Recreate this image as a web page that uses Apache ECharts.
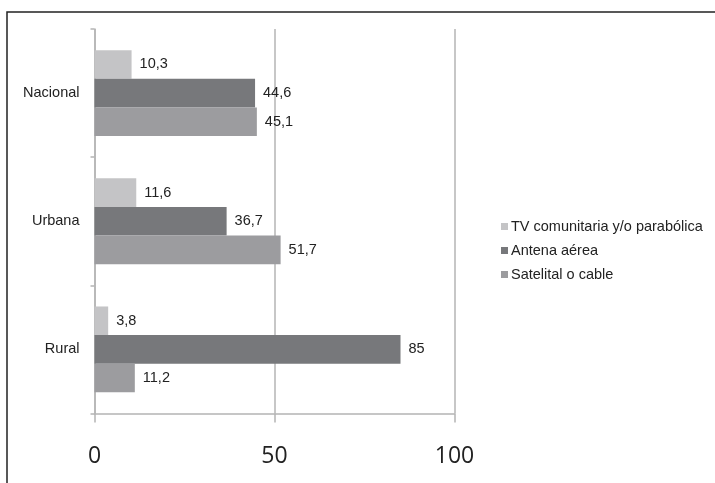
<!DOCTYPE html>
<html>
<head>
<meta charset="utf-8">
<script src="https://cdn.jsdelivr.net/npm/echarts@6/dist/echarts.min.js"></script>
<style>
  html, body { margin: 0; padding: 0; background: #fff; }
  #chart { width: 715px; height: 483px; }
</style>
</head>
<body>
<div id="chart"></div>
<script>
  // categorias y series
  var categorias = ['Nacional', 'Urbana', 'Rural']
  var nombres = ['TV comunitaria y/o parabólica', 'Antena aérea', 'Satelital o cable']
  var tvComunitaria = [10.3, 11.6, 3.8]
  var antenaAerea = [44.6, 36.7, 85]
  var satelital = [45.1, 51.7, 11.2]
  var colores = ['#c4c4c6', '#77787b', '#9c9c9f']

  var valores = [tvComunitaria, antenaAerea, satelital]
  var fuente = '"Liberation Sans", Arial, sans-serif'

  var myChart = echarts.init(document.getElementById('chart'))

  var series = []
  for (var i = 0; i < nombres.length; i++) {
    series.push({
      name: nombres[i],
      type: 'bar',
      barGap: '0%',
      barCategoryGap: '33%',
      itemStyle: { color: colores[i] },
      label: {
        show: true,
        position: 'right',
        distance: 8,
        color: '#222',
        fontFamily: fuente,
        fontSize: 14.5,
        formatter: function (p) {
          return String(p.value).replace('.', ',') // coma decimal
        }
      },
      data: valores[i]
    })
  }

  var option = {
    backgroundColor: '#fff',
    animation: false,
    graphic: [{
      type: 'rect',
      shape: { x: 7, y: 12, width: 730, height: 500 },
      style: { fill: 'none', stroke: '#222', lineWidth: 1.5 },
      silent: true
    }],
    legend: {
      orient: 'vertical',
      left: 496,
      top: 214,
      itemWidth: 7,
      itemHeight: 7,
      itemGap: 9,
      icon: 'rect',
      textStyle: { color: '#222', fontFamily: fuente, fontSize: 14.5, padding: [0, 0, 0, -2] },
      data: nombres
    },
    grid: {
      left: 94.5,
      right: 260.5,
      top: 29,
      bottom: 69.5
    },
    xAxis: {
      type: 'value',
      min: 0,
      max: 100,
      interval: 50,
      axisLine: { show: true, lineStyle: { color: '#b4b4b4', width: 1.5 } },
      axisTick: { show: true, length: 9, lineStyle: { color: '#b4b4b4', width: 1.5 } },
      axisLabel: { color: '#222', fontSize: 23, fontFamily: '"Open Sans", sans-serif', margin: 31 },
      splitLine: { show: true, lineStyle: { color: '#b4b4b4', width: 1.5 } }
    },
    yAxis: {
      type: 'category',
      inverse: true,
      data: categorias,
      axisLine: { show: true, lineStyle: { color: '#b4b4b4', width: 1.5 } },
      axisTick: { show: true, length: 4, lineStyle: { color: '#b4b4b4', width: 1.5 } },
      axisLabel: { color: '#222', fontSize: 14.5, fontFamily: fuente, margin: 15 }
    },
    series: series
  }

  myChart.setOption(option)
</script>
</body>
</html>
